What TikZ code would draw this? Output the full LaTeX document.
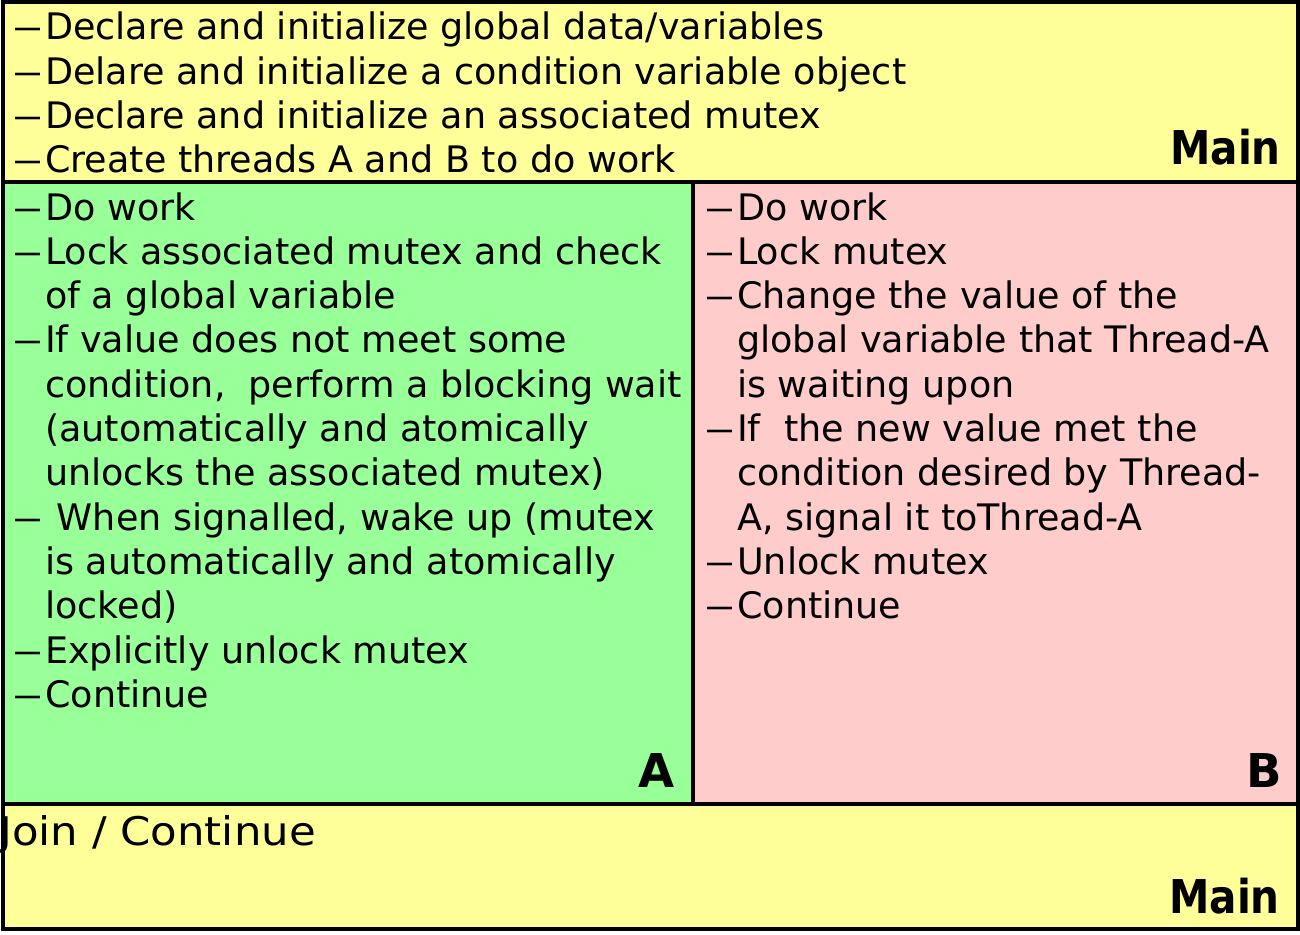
\documentclass[tikz,border=0pt]{standalone}
\usepackage{fontspec}
\setmainfont{DejaVu Sans}
\definecolor{mainyellow}{HTML}{FFFF99}
\definecolor{threadgreen}{HTML}{99FF99}
\definecolor{threadpink}{HTML}{FFCCCC}
% list helpers: a dash in a fixed-width slot, and the matching indent
\newcommand\itemdash{\makebox[29pt][l]{\hspace*{-4pt}\scalebox{1.7}[1]{–}}}
\newcommand\itemcont{\hspace*{29pt}}
\newcommand\bodysize{\fontsize{36.5}{44.3}\selectfont}
\begin{document}
\begin{tikzpicture}[x=1pt,y=-1pt,
  panel/.style={line width=4pt,draw=black,line join=miter},
  listtext/.style={anchor=base west,inner sep=0pt,font=\bodysize},
  tag/.style={anchor=base east,inner sep=0pt,font=\bfseries\fontsize{46.6}{50}\selectfont}]
\useasboundingbox (0,0) rectangle (1300,934);
\fill[white] (0,0) rectangle (1300,934);

% panel corners
\coordinate (topNW) at (3,2);
\coordinate (topSE) at (1298,182);
\coordinate (aNW) at (3,182);
\coordinate (aSE) at (692.5,804);
\coordinate (bNW) at (692.5,182);
\coordinate (bSE) at (1298,804);
\coordinate (botNW) at (3,804);
\coordinate (botSE) at (1298,929);

% panel fills
\fill[mainyellow] (topNW) rectangle (topSE);
\fill[threadgreen] (aNW) rectangle (aSE);
\fill[threadpink] (bNW) rectangle (bSE);
\fill[mainyellow] (botNW) rectangle (botSE);

% main thread setup
\node[listtext] (mainSetup) at (16,40) {\begin{tabular}[t]{@{}l@{}}
\itemdash Declare and initialize global data/variables\\
\itemdash Delare and initialize a condition variable object\\
\itemdash Declare and initialize an associated mutex\\
\itemdash Create threads A and B to do work
\end{tabular}};

% thread A
\node[listtext] (threadA) at (16,220) {\begin{tabular}[t]{@{}l@{}}
\itemdash Do work\\
\itemdash Lock associated mutex and check\\
\itemcont of a global variable\\
\itemdash If value does not meet some\\
\itemcont condition,\ \ perform a blocking wait\\
\itemcont (automatically and atomically\\
\itemcont unlocks the associated mutex)\\
\itemdash\ When signalled, wake up (mutex\\
\itemcont is automatically and atomically\\
\itemcont locked)\\
\itemdash Explicitly unlock mutex\\
\itemdash Continue
\end{tabular}};

% thread B
\node[listtext] (threadB) at (708,220) {\begin{tabular}[t]{@{}l@{}}
\itemdash Do work\\
\itemdash Lock mutex\\
\itemdash Change the value of the\\
\itemcont global variable that Thread-A\\
\itemcont is waiting upon\\
\itemdash If\ \ the new value met the\\
\itemcont condition desired by Thread-\\
\itemcont A, signal it toThread-A\\
\itemdash Unlock mutex\\
\itemdash Continue
\end{tabular}};

% main thread after join
\node[anchor=base west,inner sep=0pt,font=\fontsize{39.5}{44}\selectfont] (joinText) at (-1,845) {\scalebox{1.1}[1]{Join / Continue}};

% panel labels
\node[tag] (mainTopTag) at (1281,164) {\scalebox{0.87}[1]{Main}};
\node[tag] (aTag) at (675,787) {A};
\node[tag] (bTag) at (1282,787) {B};
\node[tag] (mainBotTag) at (1280,913) {\scalebox{0.87}[1]{Main}};

% panel outlines
\draw[panel] (topNW) rectangle (topSE);
\draw[panel] (aNW) rectangle (aSE);
\draw[panel] (bNW) rectangle (bSE);
\draw[panel] (botNW) rectangle (botSE);
\end{tikzpicture}
\end{document}
